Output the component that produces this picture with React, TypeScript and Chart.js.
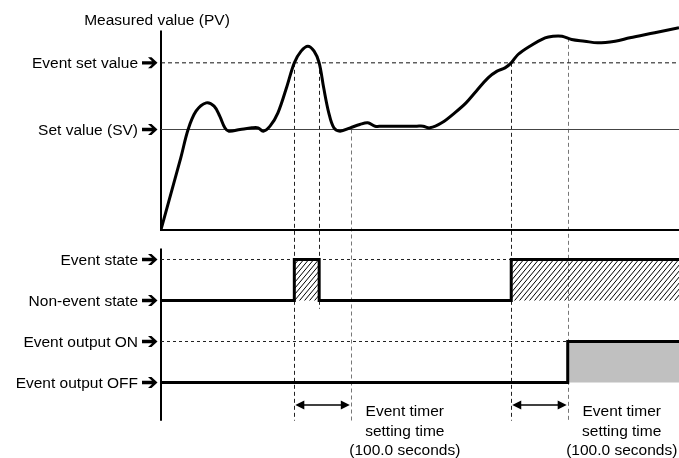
import React, { useEffect, useRef } from 'react';
import { Chart, registerables } from 'chart.js';

Chart.register(...registerables);

// ---- Data (time in seconds, PV in arbitrary units) ----
const pvTime = [0, 35, 48, 62, 80, 94, 104, 113, 120, 140, 161, 172, 181, 193, 207, 223, 236, 248, 260, 271, 280, 288, 297, 306, 317, 335, 352, 366, 379, 391, 423, 453, 464, 476, 497, 520, 540, 558, 579, 595, 609, 620, 632, 653, 680, 694, 710, 727, 750, 773, 804, 830, 874, 917];
const pvValue = [0, 43, 60, 71, 76, 74, 68, 61, 59, 60, 61, 61, 59, 62, 70, 86, 100, 107, 110, 107, 100, 85, 70, 61, 59, 61, 63, 64, 62, 62, 62, 62, 62, 61, 64, 70, 76, 83, 91, 95, 97, 100, 105, 110, 115, 116, 116, 114, 113, 112, 113, 115, 118, 121];

const setValue = 60;
const eventSetValue = 100;

// state levels: 0 = output OFF, 1 = output ON, 2 = non-event state, 3 = event state
const stateTime = [0, 236, 280, 620, 917];
const stateLevel = [2, 3, 2, 3, 3];
const outputTime = [0, 720, 917];
const outputLevel = [0, 1, 1];

const pvTickValues = [100, 60];
const pvTickLabels = ['Event set value', 'Set value (SV)'];
const stateTickValues = [3, 2, 1, 0];
const stateTickLabels = ['Event state', 'Non-event state', 'Event output ON', 'Event output OFF'];

const timerStarts = [236, 620];
const timerSeconds = 100;
const timerText = ['Event timer', 'setting time', '(100.0 seconds)'];

const markerTimes = [236, 280, 336, 620, 720];
const markerTopPV = [100, 100, 60, 100, 115];
const markerBottomState = [-0.93, 1.8, -0.93, -0.93, -0.93];
const markerGray = [false, false, true, false, true];

const timeMax = 917;
const pvAxisTop = 119.4;
const stateAxisTop = 3.27;
const stateAxisBottom = -0.93;
const timerArrowLevel = -0.56;

const FONT = '15.5px "Liberation Sans", Arial, sans-serif';

function makeHatch(): CanvasPattern | string {
  const c = document.createElement('canvas');
  c.width = 5;
  c.height = 6;
  const g = c.getContext('2d');
  if (!g) return '#999';
  g.strokeStyle = '#000';
  g.lineWidth = 1;
  for (const dx of [-5, 0, 5]) {
    g.beginPath();
    g.moveTo(-1 + dx, 7.2);
    g.lineTo(6 + dx, -1.2);
    g.stroke();
  }
  const p = g.createPattern(c, 'repeat');
  return p || '#999';
}

function drawLabelArrow(ctx: CanvasRenderingContext2D, xTip: number, y: number) {
  ctx.beginPath();
  ctx.moveTo(xTip, y);
  ctx.lineTo(xTip - 6, y - 5.5);
  ctx.lineTo(xTip - 9.5, y - 5.5);
  ctx.lineTo(xTip - 5.5, y - 1.7);
  ctx.lineTo(xTip - 15.5, y - 1.7);
  ctx.lineTo(xTip - 15.5, y + 1.7);
  ctx.lineTo(xTip - 5.5, y + 1.7);
  ctx.lineTo(xTip - 9.5, y + 5.5);
  ctx.lineTo(xTip - 6, y + 5.5);
  ctx.closePath();
  ctx.fill();
}

function drawDoubleArrow(ctx: CanvasRenderingContext2D, x1: number, x2: number, y: number) {
  ctx.strokeStyle = '#000';
  ctx.fillStyle = '#000';
  ctx.lineWidth = 1.5;
  ctx.setLineDash([]);
  ctx.beginPath();
  ctx.moveTo(x1 + 4, y);
  ctx.lineTo(x2 - 4, y);
  ctx.stroke();
  ctx.beginPath();
  ctx.moveTo(x1 + 1, y);
  ctx.lineTo(x1 + 10, y - 4.5);
  ctx.lineTo(x1 + 10, y + 4.5);
  ctx.closePath();
  ctx.fill();
  ctx.beginPath();
  ctx.moveTo(x2 - 1, y);
  ctx.lineTo(x2 - 10, y - 4.5);
  ctx.lineTo(x2 - 10, y + 4.5);
  ctx.closePath();
  ctx.fill();
}

const diagramPlugin = {
  id: 'diagram',
  beforeDatasetsDraw(chart: any) {
    const ctx: CanvasRenderingContext2D = chart.ctx;
    const xs = chart.scales.x;
    const yp = chart.scales.yPV;
    const ys = chart.scales.yState;
    ctx.save();
    // vertical dashed markers
    ctx.lineWidth = 1;
    ctx.setLineDash([4, 3]);
    markerTimes.forEach((t, i) => {
      const x = Math.round(xs.getPixelForValue(t)) + 0.5;
      ctx.strokeStyle = markerGray[i] ? '#777' : '#222';
      ctx.beginPath();
      ctx.moveTo(x, yp.getPixelForValue(markerTopPV[i]));
      ctx.lineTo(x, ys.getPixelForValue(markerBottomState[i]));
      ctx.stroke();
    });
    ctx.setLineDash([]);
    // axes
    ctx.strokeStyle = '#000';
    ctx.lineWidth = 2;
    const x0 = Math.round(xs.getPixelForValue(0));
    const yb = Math.round(yp.getPixelForValue(0));
    ctx.beginPath();
    ctx.moveTo(x0, yp.getPixelForValue(pvAxisTop));
    ctx.lineTo(x0, yb);
    ctx.lineTo(xs.getPixelForValue(timeMax), yb);
    ctx.stroke();
    ctx.beginPath();
    ctx.moveTo(x0, ys.getPixelForValue(stateAxisTop));
    ctx.lineTo(x0, ys.getPixelForValue(stateAxisBottom));
    ctx.stroke();
    ctx.restore();
  },
  afterDatasetsDraw(chart: any) {
    const ctx: CanvasRenderingContext2D = chart.ctx;
    const xs = chart.scales.x;
    const yp = chart.scales.yPV;
    const ys = chart.scales.yState;
    const x0 = xs.getPixelForValue(0);
    ctx.save();
    ctx.font = FONT;
    ctx.fillStyle = '#000';
    ctx.textBaseline = 'middle';
    // title
    ctx.textAlign = 'center';
    ctx.fillText('Measured value (PV)', x0 - 4, 21);
    // tick labels
    ctx.textAlign = 'right';
    pvTickValues.forEach((v, i) => {
      const y = yp.getPixelForValue(v);
      ctx.fillText(pvTickLabels[i], x0 - 23, y + 1);
      drawLabelArrow(ctx, x0 - 3.5, y);
    });
    stateTickValues.forEach((v, i) => {
      const y = ys.getPixelForValue(v);
      ctx.fillText(stateTickLabels[i], x0 - 23, y + 1);
      drawLabelArrow(ctx, x0 - 3.5, y);
    });
    // timer arrows and text
    timerStarts.forEach((t) => {
      const xa = xs.getPixelForValue(t);
      const xb = xs.getPixelForValue(t + timerSeconds);
      const ya = Math.round(ys.getPixelForValue(timerArrowLevel));
      drawDoubleArrow(ctx, xa, xb, ya);
      ctx.fillStyle = '#000';
      ctx.textAlign = 'center';
      timerText.forEach((line, k) => {
        ctx.fillText(line, xb + 54, ya + 7 + k * 19.5);
      });
    });
    ctx.restore();
  },
};

export default function App() {
  const ref = useRef<HTMLCanvasElement | null>(null);
  useEffect(() => {
    const canvas = ref.current;
    if (!canvas) return;
    const hatch = makeHatch();
    const pts = (xs: number[], ys: number[]) => xs.map((x, i) => ({ x, y: ys[i] }));
    const chart = new Chart(canvas, {
      type: 'line',
      data: {
        datasets: [
          {
            label: 'PV',
            data: pts(pvTime, pvValue),
            yAxisID: 'yPV',
            borderColor: '#000',
            borderWidth: 3,
            pointRadius: 0,
            tension: 0.35,
            fill: false,
          },
          {
            label: 'Event state',
            data: pts(stateTime, stateLevel),
            yAxisID: 'yState',
            stepped: true,
            borderColor: '#000',
            borderWidth: 3,
            borderJoinStyle: 'miter',
            pointRadius: 0,
            fill: { value: 2 },
            backgroundColor: hatch as any,
          },
          {
            label: 'Event output',
            data: pts(outputTime, outputLevel),
            yAxisID: 'yState',
            stepped: true,
            borderColor: '#000',
            borderWidth: 3,
            borderJoinStyle: 'miter',
            pointRadius: 0,
            fill: { value: 0 },
            backgroundColor: '#c0c0c0',
          },
          {
            label: 'SV',
            data: pts([0, timeMax], [setValue, setValue]),
            yAxisID: 'yPV',
            borderColor: '#444',
            borderWidth: 1,
            pointRadius: 0,
            fill: false,
          },
          {
            label: 'Event set value',
            data: pts([0, timeMax], [eventSetValue, eventSetValue]),
            yAxisID: 'yPV',
            borderColor: '#111',
            borderWidth: 1,
            borderDash: [4, 3],
            pointRadius: 0,
            fill: false,
          },
          {
            label: 'Event state level',
            data: pts([0, timeMax], [3, 3]),
            yAxisID: 'yState',
            borderColor: '#222',
            borderWidth: 1,
            borderDash: [3, 3],
            pointRadius: 0,
            fill: false,
          },
          {
            label: 'Output ON level',
            data: pts([0, timeMax], [1, 1]),
            yAxisID: 'yState',
            borderColor: '#222',
            borderWidth: 1,
            borderDash: [3, 3],
            pointRadius: 0,
            fill: false,
          },
        ],
      },
      options: {
        responsive: false,
        devicePixelRatio: 1,
        animation: false,
        layout: { padding: { left: 161, right: 0, top: 0, bottom: 0 } },
        scales: {
          x: { type: 'linear', min: 0, max: timeMax, display: false },
          yPV: { type: 'linear', min: -137.1, max: 137.7, display: false },
          yState: { type: 'linear', min: -1.8415, max: 9.329, display: false },
        },
        plugins: {
          legend: { display: false },
          tooltip: { enabled: false },
        },
      } as any,
      plugins: [diagramPlugin],
    });
    return () => chart.destroy();
  }, []);
  return (
    <div style={{ position: 'fixed', left: 0, top: 0, width: 679, height: 458, background: '#fff' }}>
      <canvas ref={ref} width={679} height={458} style={{ display: 'block' }} />
    </div>
  );
}
